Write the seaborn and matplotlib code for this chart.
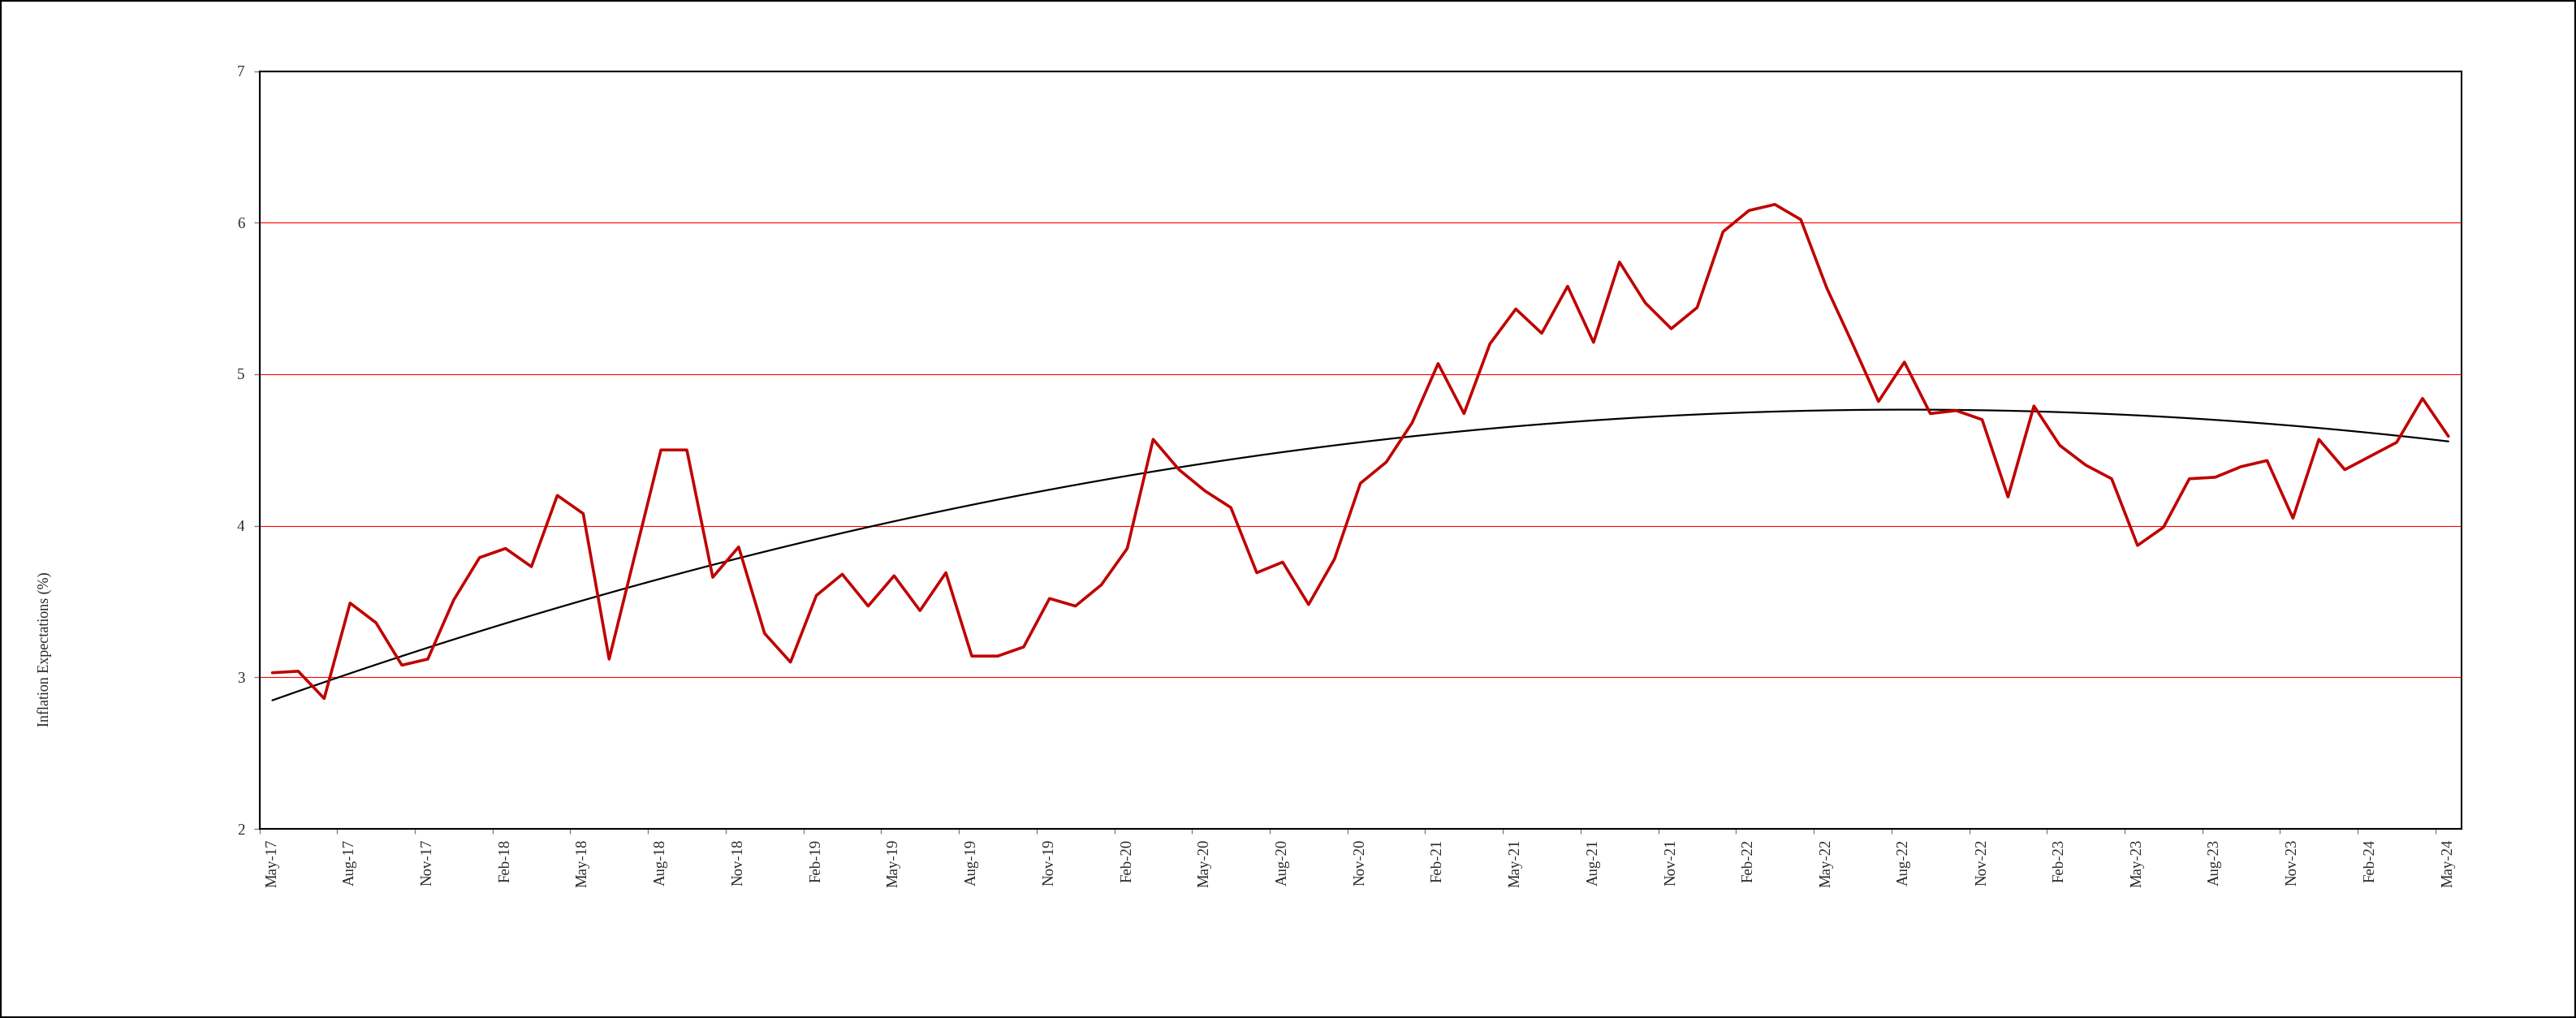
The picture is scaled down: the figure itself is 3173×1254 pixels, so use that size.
import numpy as np
import pandas as pd
import matplotlib
matplotlib.use('Agg')
import matplotlib.pyplot as plt
from matplotlib.patches import Rectangle
import seaborn as sns

# monthly inflation expectations, May-17 .. May-24
expectations = [
    3.03, 3.04, 2.86, 3.49, 3.36, 3.08, 3.12, 3.51, 3.79, 3.85, 3.73, 4.20,
    4.08, 3.12, 3.81, 4.50, 4.50, 3.66, 3.86, 3.29, 3.10, 3.54, 3.68, 3.47,
    3.67, 3.44, 3.69, 3.14, 3.14, 3.20, 3.52, 3.47, 3.61, 3.85, 4.57, 4.37,
    4.23, 4.12, 3.69, 3.76, 3.48, 3.78, 4.28, 4.42, 4.68, 5.07, 4.74, 5.20,
    5.43, 5.27, 5.58, 5.21, 5.74, 5.47, 5.30, 5.44, 5.94, 6.08, 6.12, 6.02,
    5.57, 5.20, 4.82, 5.08, 4.74, 4.76, 4.70, 4.19, 4.79, 4.53, 4.40, 4.31,
    3.87, 3.99, 4.31, 4.32, 4.39, 4.43, 4.05, 4.57, 4.37, 4.46, 4.55, 4.84,
    4.59,
]
quarter_labels = [
    'May-17', 'Aug-17', 'Nov-17', 'Feb-18', 'May-18', 'Aug-18', 'Nov-18',
    'Feb-19', 'May-19', 'Aug-19', 'Nov-19', 'Feb-20', 'May-20', 'Aug-20',
    'Nov-20', 'Feb-21', 'May-21', 'Aug-21', 'Nov-21', 'Feb-22', 'May-22',
    'Aug-22', 'Nov-22', 'Feb-23', 'May-23', 'Aug-23', 'Nov-23', 'Feb-24',
    'May-24',
]
y_ticks = [2, 3, 4, 5, 6, 7]

df = pd.DataFrame({'month': np.arange(len(expectations)), 'value': expectations})

sns.set_style('white')
plt.rcParams['font.family'] = ['Liberation Serif', 'DejaVu Serif']

fig = plt.figure(figsize=(31.73, 12.54), dpi=100)
ax = fig.add_axes([0.1007, 0.1858, 0.9555 - 0.1007, 0.9302 - 0.1858])

sns.lineplot(data=df, x='month', y='value', color='#C00000', lw=2.6, ax=ax, zorder=4)
# polynomial (order 2) trend line
sns.regplot(data=df, x='month', y='value', order=2, scatter=False, ci=None,
            color='black', line_kws={'lw': 1.6, 'zorder': 3}, ax=ax)

ax.set_xlim(-0.5, len(expectations) - 0.5)
ax.set_ylim(2, 7)
ax.set_yticks(y_ticks)
ax.set_yticklabels([str(t) for t in y_ticks], fontsize=13.5)
ax.yaxis.grid(True, color='#FF0000', lw=0.8)
ax.xaxis.grid(False)

ax.set_xticks(np.arange(0, len(expectations), 3))
ax.set_xticklabels(quarter_labels, rotation=90, fontsize=13.5)
ax.set_xticks(np.arange(-0.5, len(expectations) - 1, 3), minor=True)
ax.tick_params(axis='x', which='major', length=0, pad=9)
ax.tick_params(axis='x', which='minor', length=4, width=1, color='#808080', direction='out', bottom=True)
ax.tick_params(axis='y', which='major', length=5, width=1, color='#808080', direction='out', left=True, pad=8)

ax.set_xlabel('')
ax.set_ylabel('')
for s in ax.spines.values():
    s.set_color('black')
    s.set_linewidth(1.5)
    s.set_zorder(5)

fig.text(55 / 3173, 1 - 800 / 1254, 'Inflation Expectations (%)', rotation=90,
         ha='center', va='center', fontsize=13)

fig.patches.append(Rectangle((0, 0), 1, 1, transform=fig.transFigure, fill=False,
                             ec='black', lw=3, zorder=10))

fig.savefig('out.png', dpi=100, facecolor='white')
